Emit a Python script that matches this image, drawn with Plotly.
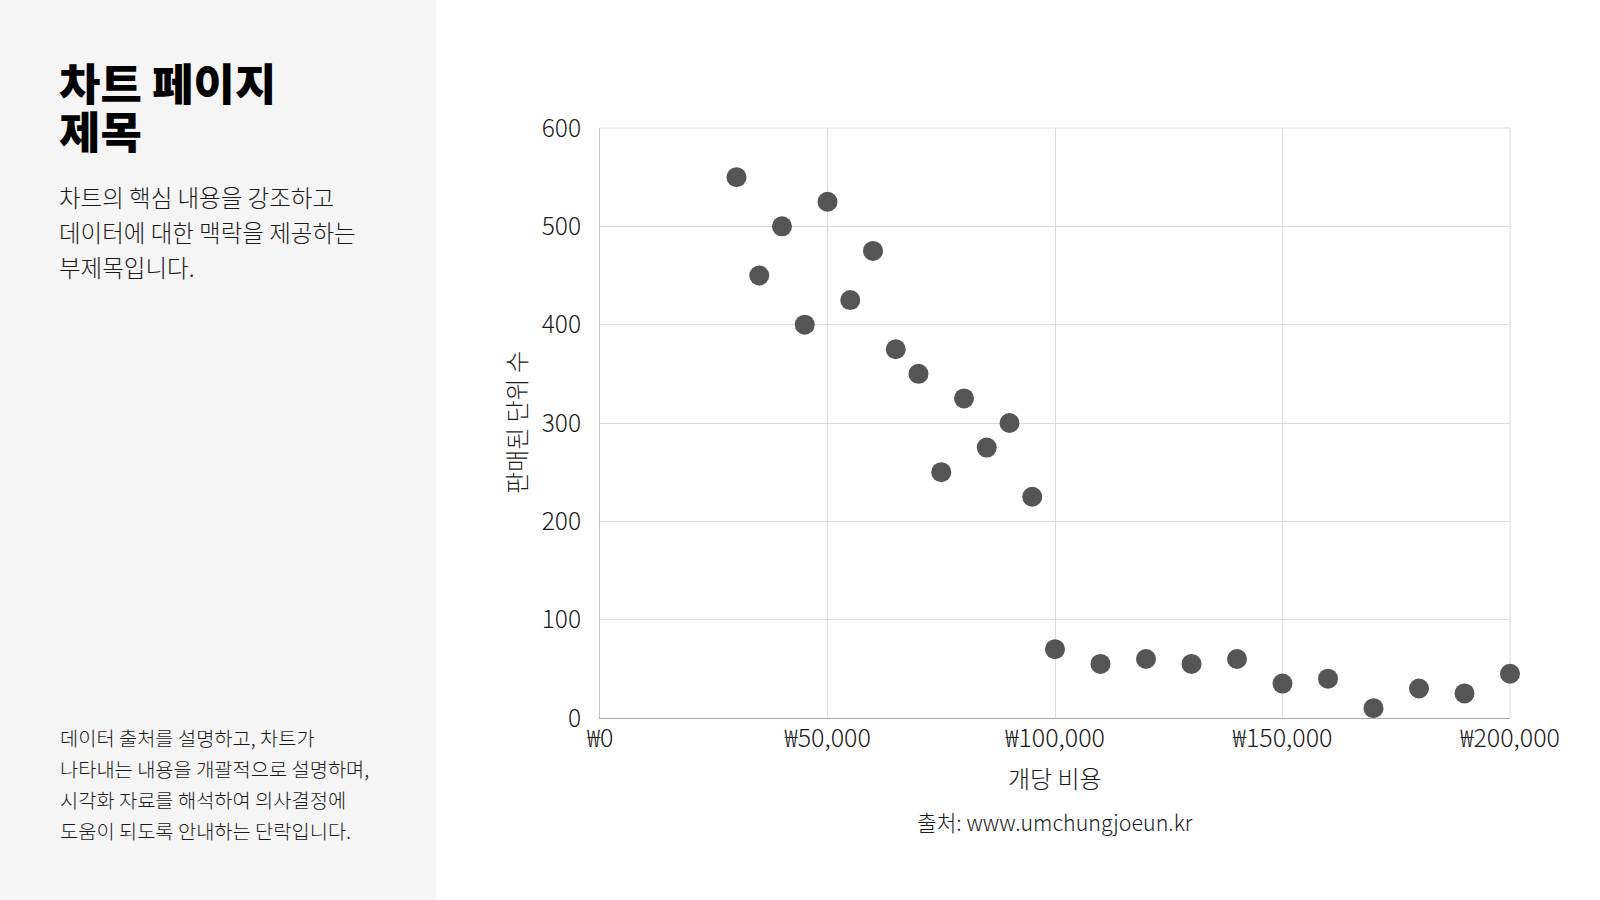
import plotly.graph_objects as go

# 개당 비용 (원) / 판매된 단위 수
unit_cost = [30000, 35000, 40000, 45000, 50000, 55000, 60000, 65000, 70000,
             75000, 80000, 85000, 90000, 95000, 100000, 110000, 120000,
             130000, 140000, 150000, 160000, 170000, 180000, 190000, 200000]
units_sold = [550, 450, 500, 400, 525, 425, 475, 375, 350,
              250, 325, 275, 300, 225, 70, 55, 60,
              55, 60, 35, 40, 10, 30, 25, 45]

x_ticks = [0, 50000, 100000, 150000, 200000]
x_tick_labels = ["₩" + f"{v:,}" for v in x_ticks]
y_ticks = [0, 100, 200, 300, 400, 500, 600]

title_lines = ["차트 페이지", "제목"]
subtitle_lines = ["차트의 핵심 내용을 강조하고",
                  "데이터에 대한 맥락을 제공하는",
                  "부제목입니다."]
note_lines = ["데이터 출처를 설명하고, 차트가",
              "나타내는 내용을 개괄적으로 설명하며,",
              "시각화 자료를 해석하여 의사결정에",
              "도움이 되도록 안내하는 단락입니다."]
x_title = "개당 비용"
y_title = "판매된 단위 수"
source = "출처: www.umchungjoeun.kr"

W, H = 1600, 900
L, R, T, B = 600, 1510, 128, 718
FONT = "Noto Sans CJK KR"
GRID = "#dcdcdc"


def px(x):
    return (x - L) / (R - L)


def py(y):
    return (B - y) / (B - T)


fig = go.Figure()

fig.add_trace(go.Scatter(
    x=unit_cost, y=units_sold,
    mode="markers",
    marker=dict(size=20, color="#555555"),
    cliponaxis=False,
    hoverinfo="x+y",
))

# left grey panel
fig.add_shape(type="rect", xref="paper", yref="paper",
              x0=px(0), x1=px(436), y0=py(H), y1=py(0),
              fillcolor="#f5f5f5", line=dict(width=0), layer="below")
# top / right frame lines of the plot area
fig.add_shape(type="line", xref="paper", yref="paper", x0=0, x1=1, y0=1, y1=1,
              line=dict(color=GRID, width=1), layer="below")
fig.add_shape(type="line", xref="paper", yref="paper", x0=1, x1=1, y0=0, y1=1,
              line=dict(color=GRID, width=1), layer="below")

ann = []
for text, yc in zip(title_lines, [82, 130]):
    ann.append(dict(text=text, x=px(57), y=py(yc), xanchor="left", yanchor="middle",
                    height=46,
                    font=dict(family=FONT, size=45, color="#000000", weight=900)))
for text, yc in zip(subtitle_lines, [197, 232, 267]):
    ann.append(dict(text=text, x=px(57), y=py(yc), xanchor="left", yanchor="middle",
                    font=dict(family=FONT, size=23.5, color="#1a1a1a", weight=300)))
for text, yc in zip(note_lines, [737, 768, 799, 830]):
    ann.append(dict(text=text, x=px(58), y=py(yc), xanchor="left", yanchor="middle",
                    font=dict(family=FONT, size=19.8, color="#1a1a1a", weight=300)))

ann.append(dict(text=y_title, x=px(515), y=py(423), textangle=-90,
                xanchor="center", yanchor="middle",
                font=dict(family=FONT, size=24, color="#1a1a1a", weight=300)))
ann.append(dict(text=x_title, x=0.5, y=py(777), xanchor="center", yanchor="middle",
                font=dict(family=FONT, size=24, color="#1a1a1a", weight=300)))
ann.append(dict(text=source, x=0.5, y=py(821), xanchor="center", yanchor="middle",
                font=dict(family=FONT, size=21.4, color="#1a1a1a", weight=300)))

for a in ann:
    a.update(xref="paper", yref="paper", showarrow=False, align="left")

fig.update_layout(
    width=W, height=H,
    margin=dict(l=L, r=W - R, t=T, b=H - B),
    paper_bgcolor="white", plot_bgcolor="white",
    showlegend=False,
    annotations=ann,
    font=dict(family=FONT, color="#1a1a1a"),
)

fig.update_xaxes(
    range=[0, 200000], tickvals=x_ticks, ticktext=x_tick_labels,
    showgrid=True, gridcolor=GRID, gridwidth=1,
    showline=True, linecolor="#aaaaaa", linewidth=1,
    zeroline=False, ticks="", ticklabelstandoff=-2,
    tickfont=dict(family=FONT, size=25, color="#1a1a1a", weight=300),
)
fig.update_yaxes(
    range=[0, 600], tickvals=y_ticks,
    showgrid=True, gridcolor=GRID, gridwidth=1,
    showline=True, linecolor="#c4c4c4", linewidth=1,
    zeroline=False, ticks="", ticklabelstandoff=13,
    tickfont=dict(family=FONT, size=24.5, color="#1a1a1a", weight=300),
)

# page without the default body margin so the figure sits at the window corner
fig.write_html("out.html", config={"displayModeBar": False},
               post_script="document.body.style.margin='0';")
